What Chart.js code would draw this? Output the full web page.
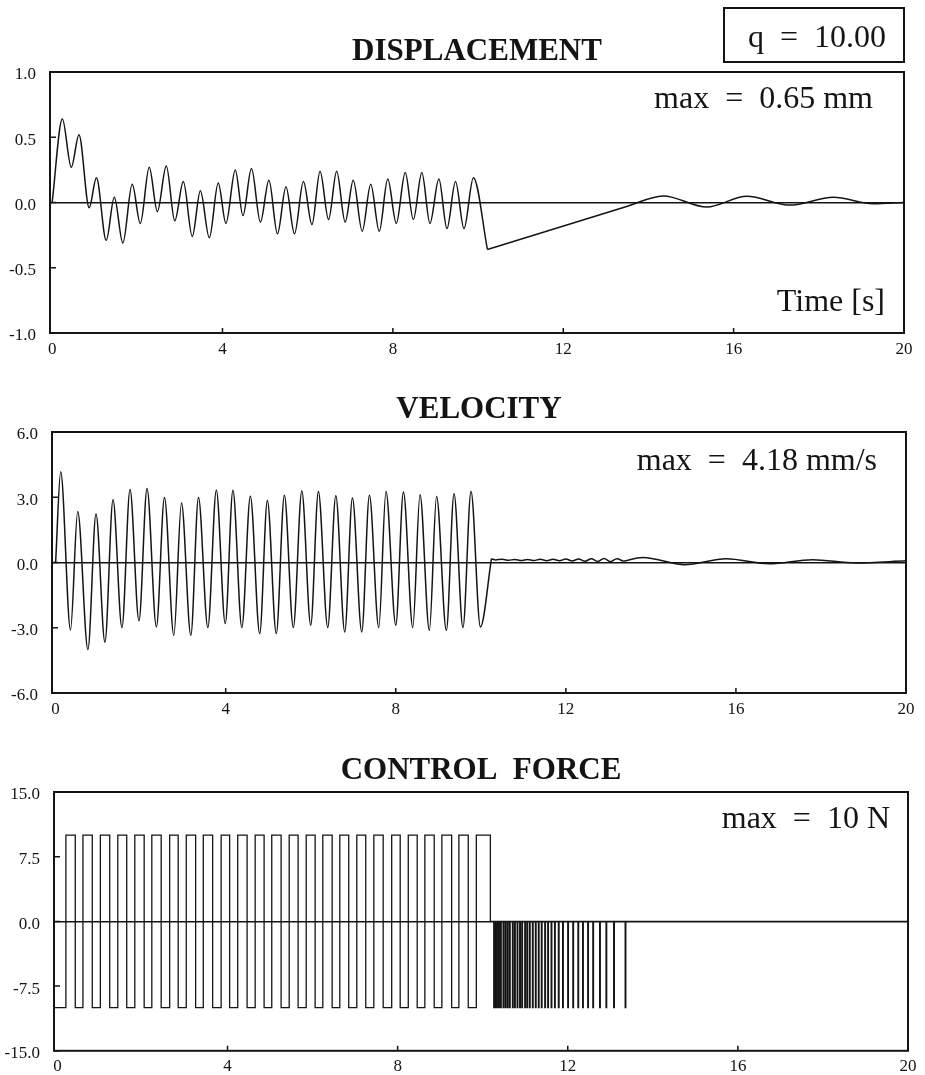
<!DOCTYPE html>
<html lang="en">
<head>
<meta charset="UTF-8">
<title>Displacement, Velocity, Control Force</title>
<script src="https://cdn.jsdelivr.net/npm/chart.js"></script>
<style>
  html, body { margin: 0; padding: 0; background: #fff; }
  .page { position: relative; width: 925px; height: 1075px; overflow: hidden; }
  .panel { position: absolute; left: 0; width: 925px; }
  canvas { display: block; }
</style>
</head>
<body>
<div class="page">
  <div class="panel" style="top:0"><canvas id="dispChart" width="925" height="370"></canvas></div>
  <div class="panel" style="top:370px"><canvas id="velChart" width="925" height="370"></canvas></div>
  <div class="panel" style="top:740px"><canvas id="forceChart" width="925" height="335"></canvas></div>
</div>
<script>
// tick labels
const timeTicks = [0, 4, 8, 12, 16, 20];
const dispTicks = [-1.0, -0.5, 0.0, 0.5, 1.0];
const velTicks = [-6.0, -3.0, 0.0, 3.0, 6.0];
const forceTicks = [-15.0, -7.5, 0.0, 7.5, 15.0];

// displacement [mm]: forced oscillation, slide back, settling
const dispOscT = [0, 0.24, 0.45, 0.63, 0.87, 1.04, 1.27, 1.46, 1.66, 1.88, 2.07, 2.28, 2.47, 2.68, 2.88, 3.08, 3.29, 3.48, 3.69, 3.90, 4.08, 4.30, 4.48, 4.68, 4.89, 5.09, 5.29, 5.49, 5.69, 5.90, 6.10, 6.29, 6.49, 6.68, 6.88, 7.07, 7.28, 7.48, 7.68, 7.88, 8.08, 8.29, 8.48, 8.68, 8.87, 9.08, 9.27, 9.47, 9.67, 9.89, 10.22];
const dispOscV = [0, 0.64, 0.27, 0.52, -0.04, 0.19, -0.29, 0.04, -0.31, 0.14, -0.16, 0.27, -0.07, 0.28, -0.14, 0.16, -0.26, 0.09, -0.27, 0.15, -0.16, 0.25, -0.10, 0.26, -0.15, 0.17, -0.24, 0.12, -0.24, 0.16, -0.17, 0.24, -0.13, 0.24, -0.15, 0.17, -0.22, 0.14, -0.22, 0.18, -0.16, 0.23, -0.13, 0.23, -0.16, 0.18, -0.20, 0.16, -0.20, 0.19, -0.36];
const dispSlideT = [10.22, 13.45];
const dispSlideV = [-0.36, -0.035];
const dispSettleT = [13.45, 14.35, 15.37, 16.31, 17.32, 18.34, 19.28, 20];
const dispSettleV = [-0.035, 0.05, -0.035, 0.048, -0.02, 0.04, -0.01, 0.0];

// velocity [mm/s]
const velOscT = [0, 0.12, 0.35, 0.52, 0.76, 0.95, 1.16, 1.35, 1.56, 1.75, 1.96, 2.15, 2.37, 2.56, 2.78, 2.96, 3.18, 3.36, 3.58, 3.78, 3.99, 4.17, 4.38, 4.58, 4.80, 4.98, 5.19, 5.38, 5.59, 5.79, 6.00, 6.18, 6.40, 6.59, 6.80, 6.98, 7.20, 7.38, 7.60, 7.77, 8.00, 8.18, 8.40, 8.57, 8.79, 8.96, 9.19, 9.37, 9.58, 9.77, 9.99, 10.25];
const velOscV = [0, 4.17, -3.1, 2.34, -4.0, 2.23, -3.66, 2.88, -2.99, 3.36, -2.68, 3.40, -2.96, 2.99, -3.35, 2.73, -3.35, 2.99, -2.99, 3.32, -2.81, 3.32, -2.99, 3.05, -3.27, 2.85, -3.27, 3.09, -2.99, 3.29, -2.88, 3.27, -2.99, 3.07, -3.19, 2.96, -3.19, 3.09, -2.99, 3.27, -2.88, 3.24, -2.99, 3.12, -3.12, 3.04, -3.12, 3.16, -2.99, 3.27, -2.96, 0.17];
const velSlideT = [10.25, 10.35, 10.5, 10.65, 10.8, 10.95, 11.1, 11.25, 11.4, 11.55, 11.7, 11.85, 12.0, 12.15, 12.3, 12.45, 12.6, 12.75, 12.9, 13.05, 13.2, 13.35];
const velSlideV = [0.17, 0.12, 0.15, 0.10, 0.14, 0.09, 0.14, 0.09, 0.15, 0.08, 0.15, 0.08, 0.16, 0.07, 0.16, 0.06, 0.17, 0.05, 0.18, 0.04, 0.17, 0.06];
const velSettleT = [13.35, 13.81, 14.79, 15.77, 16.78, 17.8, 18.82, 20];
const velSettleV = [0.06, 0.23, -0.10, 0.17, -0.06, 0.13, -0.02, 0.08];

// control force [N]: bang-bang switching times
const forceHigh = 10;
const forceLow = -10;
const forceRiseT = [0.20, 0.60, 1.01, 1.42, 1.82, 2.22, 2.64, 3.03, 3.43, 3.85, 4.24, 4.65, 5.04, 5.45, 5.85, 6.24, 6.64, 7.04, 7.44, 7.86, 8.25, 8.64, 9.04, 9.44, 9.85];
const forceFallT = [0.42, 0.82, 1.23, 1.63, 2.04, 2.44, 2.84, 3.25, 3.65, 4.05, 4.46, 4.86, 5.26, 5.66, 6.06, 6.46, 6.85, 7.25, 7.66, 8.06, 8.46, 8.86, 9.27, 9.66, 10.18];
const chatterT = [10.26, 10.28, 10.30, 10.32, 10.34, 10.36, 10.38, 10.40, 10.42, 10.48, 10.53, 10.58, 10.63, 10.70, 10.75, 10.81, 10.87, 10.92, 10.99, 11.04, 11.10, 11.17, 11.24, 11.31, 11.38, 11.46, 11.53, 11.61, 11.69, 11.78, 11.88, 12.00, 12.12, 12.24, 12.35, 12.47, 12.59, 12.75, 12.90, 13.08, 13.35];
const chatterWidth = 0.015;

const ink = '#141414';
const serif = '"Liberation Serif", "Times New Roman", serif';

function pairs(ts, vs) {
    return ts.map((t, i) => ({ x: t, y: vs[i] }));
}

function forcePoints(start) {
    const pts = [{ x: start, y: forceLow }];
    forceRiseT.forEach((t, i) => {
        pts.push({ x: t, y: forceHigh });
        const last = i === forceRiseT.length - 1;
        pts.push({ x: forceFallT[i], y: last ? 0 : forceLow });
    });
    chatterT.forEach(t => {
        pts.push({ x: t, y: forceLow });
        pts.push({ x: t + chatterWidth, y: 0 });
    });
    pts.push({ x: 20, y: 0 });
    return pts;
}

function lineSet(data, smooth, extra) {
    return Object.assign({
        data: data,
        borderColor: ink,
        borderWidth: 1.5,
        pointRadius: 0,
        fill: false,
        tension: smooth ? 0.4 : 0,
        cubicInterpolationMode: smooth ? 'monotone' : 'default'
    }, extra || {});
}

// frame, inner tick marks, title and notes
const framePlugin = {
    id: 'frame',
    afterDraw(chart, args, opts) {
        const { ctx, chartArea: a, scales } = chart;
        ctx.save();
        ctx.strokeStyle = ink;
        ctx.lineWidth = 2;
        ctx.strokeRect(a.left, a.top, a.right - a.left, a.bottom - a.top);

        ctx.lineWidth = 1.5;
        ctx.beginPath();
        scales.x.ticks.forEach(t => {
            if (t.value <= 0 || t.value >= 20) return;
            const px = scales.x.getPixelForValue(t.value);
            ctx.moveTo(px, a.bottom);
            ctx.lineTo(px, a.bottom - 5);
        });
        scales.y.ticks.forEach(t => {
            const py = scales.y.getPixelForValue(t.value);
            ctx.moveTo(a.left, py);
            ctx.lineTo(a.left + 6, py);
        });
        ctx.stroke();

        ctx.fillStyle = ink;
        ctx.textBaseline = 'alphabetic';
        ctx.font = 'bold 31px ' + serif;
        ctx.textAlign = 'center';
        ctx.fillText(opts.title, (a.left + a.right) / 2, opts.titleY);

        ctx.font = '32px ' + serif;
        ctx.textAlign = 'right';
        opts.notes.forEach(n => ctx.fillText(n.text, n.x, n.y));

        if (opts.box) {
            const b = opts.box;
            ctx.lineWidth = 2;
            ctx.strokeRect(b.x, b.y, b.w, b.h);
            ctx.font = '32px ' + serif;
            ctx.textAlign = 'center';
            ctx.fillText(b.text, b.tx, b.ty);
        }
        ctx.restore();
    }
};

function panelOptions(cfg) {
    const tickFont = { family: serif, size: 17 };
    return {
        responsive: false,
        animation: false,
        events: [],
        layout: { padding: { top: cfg.padTop, right: cfg.padRight, left: 0, bottom: 0 } },
        plugins: {
            legend: { display: false },
            tooltip: { enabled: false },
            frame: cfg.frame
        },
        scales: {
            x: {
                type: 'linear',
                min: cfg.xMin,
                max: 20,
                afterBuildTicks: s => { s.ticks = timeTicks.map(v => ({ value: v })); },
                afterFit: s => { s.height = cfg.xAxisH; },
                grid: { display: false, drawTicks: false },
                border: { display: false },
                ticks: { font: tickFont, color: ink, padding: 6, maxRotation: 0, autoSkip: false }
            },
            y: {
                type: 'linear',
                min: cfg.yTicks[0],
                max: cfg.yTicks[cfg.yTicks.length - 1],
                afterBuildTicks: s => { s.ticks = cfg.yTicks.map(v => ({ value: v })); },
                afterFit: s => { s.width = cfg.yAxisW; },
                grid: {
                    drawTicks: false,
                    lineWidth: 1.5,
                    color: c => (c.tick && c.tick.value === 0 ? ink : 'rgba(0,0,0,0)')
                },
                border: { display: false },
                ticks: {
                    font: tickFont,
                    color: ink,
                    padding: 14,
                    labelOffset: 3,
                    autoSkip: false,
                    callback: v => v.toFixed(1)
                }
            }
        }
    };
}

Chart.register(framePlugin);

new Chart(document.getElementById('dispChart'), {
    type: 'line',
    data: {
        datasets: [
            lineSet(pairs(dispOscT, dispOscV), true),
            lineSet(pairs(dispSlideT, dispSlideV), false),
            lineSet(pairs(dispSettleT, dispSettleV), true)
        ]
    },
    options: panelOptions({
        padTop: 72, padRight: 21, xAxisH: 37, yAxisW: 50, xMin: -0.05,
        yTicks: dispTicks,
        frame: {
            title: 'DISPLACEMENT', titleY: 60,
            notes: [
                { text: 'max  =  0.65 mm', x: 873, y: 108 },
                { text: 'Time [s]', x: 885, y: 311 }
            ],
            box: { x: 724, y: 8, w: 180, h: 54, text: 'q  =  10.00', tx: 817, ty: 47 }
        }
    })
});

new Chart(document.getElementById('velChart'), {
    type: 'line',
    data: {
        datasets: [
            lineSet(pairs(velOscT, velOscV), true),
            lineSet(pairs(velSlideT, velSlideV), true),
            lineSet(pairs(velSettleT, velSettleV), true)
        ]
    },
    options: panelOptions({
        padTop: 62, padRight: 19, xAxisH: 47, yAxisW: 52, xMin: -0.085,
        yTicks: velTicks,
        frame: {
            title: 'VELOCITY', titleY: 48,
            notes: [{ text: 'max  =  4.18 mm/s', x: 877, y: 100 }]
        }
    })
});

new Chart(document.getElementById('forceChart'), {
    type: 'line',
    data: {
        datasets: [
            lineSet(forcePoints(-0.08), false, { stepped: true, borderWidth: 1.3 })
        ]
    },
    options: panelOptions({
        padTop: 52, padRight: 17, xAxisH: 23, yAxisW: 54, xMin: -0.08,
        yTicks: forceTicks,
        frame: {
            title: 'CONTROL  FORCE', titleY: 39,
            notes: [{ text: 'max  =  10 N', x: 890, y: 88 }]
        }
    })
});
</script>
</body>
</html>
